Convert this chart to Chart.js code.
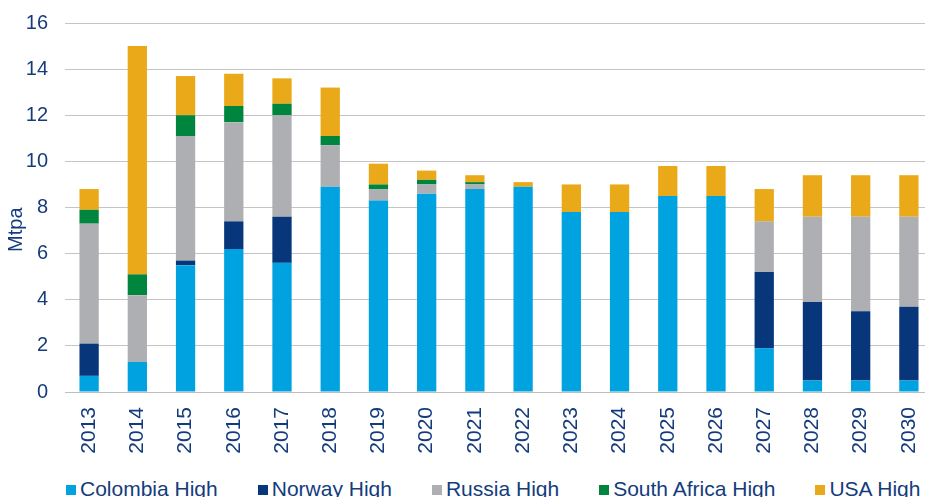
<!DOCTYPE html>
<html>
<head>
<meta charset="utf-8">
<script src="https://cdn.jsdelivr.net/npm/chart.js@4/dist/chart.umd.min.js"></script>
<style>
    html, body { margin: 0; padding: 0; background: #fff; width: 925px; height: 497px; overflow: hidden; }
    #wrap { position: absolute; left: 0; top: 0; width: 935px; height: 460px; }
    #legend {
        position: absolute; left: 66px; top: 478px; white-space: nowrap;
        font-family: "Liberation Sans", Arial, sans-serif; font-size: 21px; line-height: 22px; color: #143C7C;
    }
    #legend span.item { display: inline-block; margin-right: 40px; }
    #legend span.box { display: inline-block; width: 10px; height: 10px; margin-right: 4px; vertical-align: 1px; }
</style>
</head>
<body>
<div id="wrap"><canvas id="chart"></canvas></div>
<div id="legend"></div>
<script>
// Chart data
const years = ['2013', '2014', '2015', '2016', '2017', '2018', '2019', '2020', '2021',
    '2022', '2023', '2024', '2025', '2026', '2027', '2028', '2029', '2030'];
const colombiaHigh = [0.7, 1.3, 5.5, 6.2, 5.6, 8.9, 8.3, 8.6, 8.8, 8.9, 7.8, 7.8, 8.5, 8.5, 1.9, 0.5, 0.5, 0.5];
const norwayHigh = [1.4, 0, 0.2, 1.2, 2.0, 0, 0, 0, 0, 0, 0, 0, 0, 0, 3.3, 3.4, 3.0, 3.2];
const russiaHigh = [5.2, 2.9, 5.4, 4.3, 4.4, 1.8, 0.5, 0.4, 0.2, 0, 0, 0, 0, 0, 2.2, 3.7, 4.1, 3.9];
const southAfricaHigh = [0.6, 0.9, 0.9, 0.7, 0.5, 0.4, 0.2, 0.2, 0.1, 0, 0, 0, 0, 0, 0, 0, 0, 0];
const usaHigh = [0.9, 9.9, 1.7, 1.4, 1.1, 2.1, 0.9, 0.4, 0.3, 0.2, 1.2, 1.2, 1.3, 1.3, 1.4, 1.8, 1.8, 1.8];
const yTicks = [0, 2, 4, 6, 8, 10, 12, 14, 16];

const textColor = '#143C7C';
const fontFamily = '"Liberation Sans", Arial, sans-serif';

const series = [
    { label: 'Colombia High', data: colombiaHigh, color: '#00A3E0' },
    { label: 'Norway High', data: norwayHigh, color: '#07367A' },
    { label: 'Russia High', data: russiaHigh, color: '#AEAFB2' },
    { label: 'South Africa High', data: southAfricaHigh, color: '#00853F' },
    { label: 'USA High', data: usaHigh, color: '#EAA918' }
];

const ctx = document.getElementById('chart').getContext('2d');
const chart = new Chart(ctx, {
    type: 'bar',
    data: {
        labels: years,
        datasets: series.map(s => ({
            label: s.label,
            data: s.data,
            backgroundColor: s.color,
            borderWidth: 0,
            categoryPercentage: 0.4,
            barPercentage: 1
        }))
    },
    options: {
        responsive: true,
        maintainAspectRatio: false,
        animation: false,
        layout: { padding: { top: 23, right: 2, left: 0, bottom: 0 } },
        plugins: {
            legend: { display: false },
            tooltip: { enabled: false }
        },
        scales: {
            x: {
                stacked: true,
                grid: { display: false, drawTicks: false },
                border: { display: true, color: '#BFBFBF', width: 1 },
                ticks: {
                    color: textColor,
                    font: { family: fontFamily, size: 21 },
                    minRotation: 90,
                    maxRotation: 90,
                    autoSkip: false,
                    padding: 15
                },
                afterFit: scale => {
                    scale.height = 68;
                    // the plot runs right up to (and past) the canvas edge in the source
                    scale.paddingLeft = 0;
                    scale.paddingRight = 0;
                }
            },
            y: {
                stacked: true,
                min: 0,
                max: 16,
                afterBuildTicks: scale => { scale.ticks = yTicks.map(v => ({ value: v })); },
                grid: { color: '#C4C4C4', lineWidth: 1, drawTicks: false },
                border: { display: false },
                ticks: {
                    color: textColor,
                    font: { family: fontFamily, size: 20 },
                    padding: 17
                },
                title: {
                    display: true,
                    // trailing spaces push the rotated title a little below centre, as in the source
                    text: 'Mtpa        ',
                    color: textColor,
                    font: { family: fontFamily, size: 20 },
                    padding: { top: 4, bottom: 0 }
                },
                afterFit: scale => {
                    scale.width = 65;
                    // let layout padding alone decide where the top gridline sits
                    scale.paddingTop = 0;
                    scale.paddingBottom = 0;
                }
            }
        }
    }
});

// HTML legend built from the datasets
const legendEl = document.getElementById('legend');
series.forEach(s => {
    const item = document.createElement('span');
    item.className = 'item';
    const box = document.createElement('span');
    box.className = 'box';
    box.style.background = s.color;
    item.appendChild(box);
    item.appendChild(document.createTextNode(s.label));
    legendEl.appendChild(item);
});
</script>
</body>
</html>
